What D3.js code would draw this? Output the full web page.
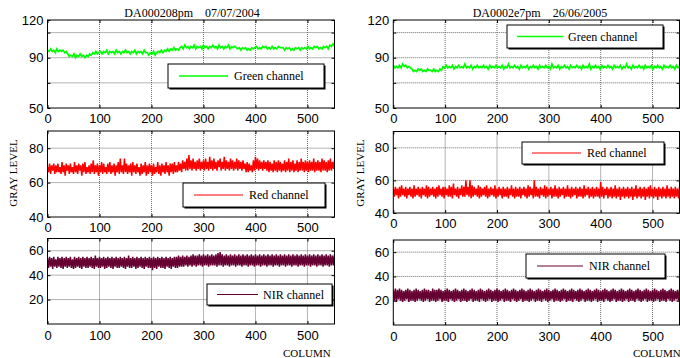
<!DOCTYPE html>
<html>
<head>
<meta charset="utf-8">
<script src="https://cdn.jsdelivr.net/npm/d3@7"></script>
<style>
  html, body { margin: 0; padding: 0; background: #fff; }
  svg { display: block; }
  .num text, text.num { font-family: "Liberation Sans", Arial, sans-serif; font-size: 13px; fill: #000; }
  .serif { font-family: "Liberation Serif", "Times New Roman", serif; fill: #000; white-space: pre; }
</style>
</head>
<body>
<div id="chart"></div>
<script>
const W = 680, H = 358

// ---- chart data ----
const titles = ['DA000208pm    07/07/2004', 'DA0002e7pm    26/06/2005']
const channelNames = ['Green channel', 'Red channel', 'NIR channel']
const channelColors = ['#00ff00', '#ff0000', '#660033']
const xMax = 552
const xTicks = [0, 100, 200, 300, 400, 500]
const yDomains = [[50, 120], [40, 90], [0, 70]]
const yTickLabels = [[50, 90, 120], [40, 60, 80], [20, 40, 60]]
const yGrid = [[70, 90, 110], [60, 80], [20, 40, 60]]
// column step between samples
const greenStep = 3
const bandStep = 2

// gray levels, left image (DA000208pm)
const greenLeft = [
  96,95,97,95,96,94,97,95,96,95,96,94,95,
  93,91,92,91,93,90,92,91,93,91,92,90,92,91,93,92,
  94,93,95,93,94,
  95,93,95,94,96,93,95,94,95,93,96,94,95,93,95,94,96,94,95,93,95,94,96,93,95,94,95,93,96,94,
  94,92,94,93,95,92,94,
  95,94,96,94,96,95,97,95,97,96,98,96,97,96,98,
  99,97,100,98,99,97,99,98,100,97,99,98,99,97,100,98,99,97,99,98,100,98,99,97,100,98,99,97,99,98,100,97,99,98,99,
  98,97,98,96,98,97,98,96,97,96,98,97,98,
  99,97,98,97,99,98,99,97,98,97,99,97,98,97,99,98,98,
  98,96,98,97,98,96,97,96,98,97,98,96,98,97,98,97,
  99,97,98,97,99,98,99,97,98,97,99,98,99,97,100,99,101,99
]
const redLeft = [
  69,66,71,65,70,67,71,65,70,66, 71,66,69,65,72,66,70,64,71,67,
  70,65,71,66,69,65,72,66,70,65, 71,67,70,64,71,66,72,65,69,66,
  70,65,71,66,73,65,70,66,71,64, 70,66,72,65,71,66,69,65,71,66,
  72,65,70,66,71,64,70,66,72,65, 74,66,70,65,74,66,71,65,70,66,
  71,64,72,66,70,65,71,66,69,64, 71,65,70,66,72,64,70,65,71,66,
  70,64,71,65,69,66,72,65,70,64, 71,66,70,65,72,66,70,64,71,66,
  71,65,72,66,70,66,72,67,71,66, 73,68,72,67,74,67,76,68,73,67,
  74,68,72,67,73,68,74,67,72,68, 73,67,74,68,72,67,75,68,73,67,
  74,68,72,67,73,69,74,67,72,68, 75,67,73,68,72,67,74,68,73,67,
  72,68,74,67,73,68,72,67,73,68, 71,66,72,66,71,67,70,66,73,67,
  75,68,74,67,73,68,72,67,73,68, 72,67,73,66,72,67,71,66,73,67,
  72,66,73,67,72,66,71,67,73,66, 72,67,74,66,72,67,73,66,71,67,
  73,66,72,67,74,67,72,66,73,67, 72,66,73,67,72,67,74,66,72,67,
  73,67,72,66,74,67,73,67,72,66, 73,67,74,67,72,68,73
]
const nirLeft = [
  54,46,55,47,54,45,55,47,53,46, 55,47,54,46,55,45,54,47,55,46,
  54,47,55,46,53,45,55,46,54,47, 55,46,54,45,55,47,54,46,55,46,
  54,47,55,46,54,45,56,47,54,46, 55,46,54,47,55,45,54,46,55,47,
  54,46,55,45,54,47,55,46,54,46, 55,47,54,46,55,45,54,47,56,46,
  54,46,55,47,54,45,55,46,54,47, 55,46,54,45,55,47,54,46,55,46,
  54,44,55,46,54,45,55,47,54,46, 55,46,54,45,55,47,54,46,55,45,
  54,47,55,46,55,46,56,47,55,47, 56,47,55,48,56,47,55,48,56,47,
  57,48,56,47,56,48,57,48,56,47, 57,48,56,48,57,47,56,48,57,48,
  56,48,57,47,58,48,59,48,57,47, 56,48,57,48,56,47,57,48,56,48,
  57,47,56,48,57,48,56,47,57,48, 56,48,57,47,56,48,57,48,56,47,
  57,48,56,48,57,47,56,48,57,48, 56,47,57,48,56,48,57,47,56,48,
  57,48,56,47,57,48,56,48,57,47, 56,48,57,48,56,47,57,48,56,48,
  57,47,56,48,57,48,56,47,57,48, 56,48,57,47,56,48,57,48,56,47,
  57,48,56,48,57,47,56,48,57,48, 56,47,57,48,56,48,57
]

// gray levels, right image (DA0002e7pm)
const greenRight = [
  84,82,83,82,84,82,85,83,84,82,83,82,
  81,79,80,79,81,80,81,79,80,79,81,80,80,79,81,79,80,79,81,80,
  83,82,84,82,83,82,84,81,83,82, 84,82,83,82,85,82,83,82,84,81,
  83,82,84,82,83,82,84,82,83,81, 84,82,83,82,84,82,83,82,84,81,
  83,82,85,82,83,82,84,82,83,81, 84,82,83,82,84,81,83,82,84,82,
  83,81,84,82,83,82,84,82,83,81, 85,82,83,82,84,81,83,82,84,82,
  83,81,84,82,83,82,84,82,83,81, 84,82,83,82,85,81,83,82,84,82,
  83,81,84,82,83,82,84,82,83,81, 84,82,83,82,84,81,83,82,85,82,
  83,81,84,82,83,82,84,82,83,81, 84,82,83,82,84,81,83,82,84,82,
  83,81,84,82,83,82,84,82,83,81, 84,82,83
]
const redRight = [
  55,50,56,51,55,49,56,50,57,51, 55,50,56,49,55,51,56,50,55,49,
  57,50,55,51,56,50,55,49,56,51, 55,50,57,49,56,50,55,51,56,50,
  55,49,56,50,57,51,55,50,56,49, 56,51,55,50,57,50,56,49,58,51,
  55,50,56,49,55,51,57,50,56,50, 60,51,56,50,60,49,57,50,56,51,
  55,50,57,49,56,50,55,51,56,50, 57,49,55,50,56,51,55,50,57,49,
  55,50,56,51,55,49,56,50,55,50, 56,49,55,51,57,50,55,49,56,50,
  55,50,56,49,55,51,56,50,55,49, 57,50,56,51,55,49,60,50,56,50,
  55,49,56,51,55,50,57,49,56,50, 55,51,56,49,55,50,57,50,55,49,
  56,50,55,51,56,49,55,50,57,50, 55,49,56,50,55,51,56,49,55,50,
  56,50,55,49,57,50,55,51,56,49, 55,50,56,49,55,50,56,50,55,49,
  59,50,56,49,55,51,56,49,55,50, 56,49,55,50,57,49,55,50,56,48,
  55,50,56,49,55,50,56,49,55,50, 56,48,55,50,57,49,55,50,56,49,
  55,50,56,48,55,50,56,49,57,50, 55,49,56,50,55,48,56,50,55,49,
  56,50,55,49,57,50,55,49,56,50, 55,49,56,50,55,49,56
]
const nirRight = [
  29,20,30,19,29,21,30,20,29,19, 28,20,29,21,30,19,29,20,28,20,
  29,19,30,20,29,21,28,20,29,19, 30,20,29,21,29,19,28,20,30,20,
  29,19,29,20,30,21,29,19,28,20, 29,20,30,19,29,21,28,20,29,19,
  30,20,29,21,28,19,29,20,30,20, 29,19,28,20,29,21,30,19,29,20,
  28,20,29,19,30,21,29,20,28,19, 29,20,30,21,29,19,28,20,29,20,
  30,19,29,20,28,21,29,19,30,20, 29,20,28,19,29,21,30,20,29,19,
  28,20,29,21,30,19,29,20,28,20, 29,19,30,20,29,21,28,19,29,20,
  30,20,29,19,28,21,29,20,30,19, 29,20,28,21,29,19,30,20,29,20,
  28,19,29,20,30,21,29,19,28,20, 29,20,30,19,29,21,28,20,29,19,
  30,20,29,21,28,19,29,20,30,20, 29,19,28,20,29,21,30,19,29,20,
  28,20,29,19,30,21,29,20,28,19, 29,20,30,21,29,19,28,20,29,20,
  30,19,29,20,28,21,29,19,30,20, 29,20,28,19,29,21,30,20,29,19,
  28,20,29,21,30,19,29,20,28,20, 29,19,30,20,29,21,28,19,29,20,
  30,20,29,19,28,21,29,20,30,19, 29,20,28,21,29,20,29
]

const series = [
  [greenLeft, redLeft, nirLeft],
  [greenRight, redRight, nirRight]
]
const steps = [greenStep, bandStep, bandStep]

// ---- layout ----
// legends: [x, y, w, h, line start offset, line length, text offset]
const cols = [
  { x0: 47.5, x1: 334.5, titleX: 192, grayX: 13, columnX: 283,
    rows: [[20, 108], [131, 217], [238.5, 324]],
    legends: [[168, 64, 156, 24, 11, 49, 66], [183, 183, 142, 24, 11, 49, 66], [207, 284, 125, 21, 10, 41, 56]] },
  { x0: 393.3, x1: 679.5, titleX: 540, grayX: 360, columnX: 633,
    rows: [[20, 108], [131.5, 213], [240, 325]],
    legends: [[507, 25, 156, 23, 10, 46, 61], [522, 142, 142, 22, 10, 49, 65], [526, 254, 139, 24, 11, 46, 63]] }
]

const svg = d3.select('#chart').append('svg')
  .attr('width', W)
  .attr('height', H)

function drawPanel(col, c, r) {
  const [y0, y1] = col.rows[r]
  const x = d3.scaleLinear().domain([0, xMax]).range([col.x0, col.x1])
  const y = d3.scaleLinear().domain(yDomains[r]).range([y1, y0])
  const g = svg.append('g')

  // grid lines
  g.append('g').selectAll('line')
    .data(xTicks.filter(d => d > 0))
    .join('line')
    .attr('x1', d => x(d)).attr('x2', d => x(d))
    .attr('y1', y0).attr('y2', y1)
    .attr('stroke', '#5a5a5a').attr('stroke-width', 0.9).attr('stroke-dasharray', '1,1')
  g.append('g').selectAll('line')
    .data(yGrid[r])
    .join('line')
    .attr('x1', col.x0).attr('x2', col.x1)
    .attr('y1', d => y(d)).attr('y2', d => y(d))
    .attr('stroke', '#5a5a5a').attr('stroke-width', 0.9).attr('stroke-dasharray', '1,1')

  // data
  const clipId = 'clip' + c + r
  svg.append('clipPath').attr('id', clipId)
    .append('rect')
    .attr('x', col.x0).attr('y', y0)
    .attr('width', col.x1 - col.x0).attr('height', y1 - y0)
  const step = steps[r]
  const line = d3.line()
    .x((d, i) => x(i * step))
    .y(d => y(d))
  g.append('path')
    .attr('clip-path', 'url(#' + clipId + ')')
    .attr('d', line(series[c][r]))
    .attr('fill', 'none')
    .attr('stroke', channelColors[r])
    .attr('stroke-width', r === 0 ? 1.7 : 1.5)

  // box and inner ticks on all four sides
  const yTickAll = Array.from(new Set(yTickLabels[r].concat(yGrid[r])))
  g.append('g').attr('transform', 'translate(0,' + y1 + ')')
    .call(d3.axisTop(x).tickValues(xTicks).tickSize(3).tickFormat(''))
  g.append('g').attr('transform', 'translate(0,' + y0 + ')')
    .call(d3.axisBottom(x).tickValues(xTicks).tickSize(3).tickFormat(''))
  g.append('g').attr('transform', 'translate(' + col.x0 + ',0)')
    .call(d3.axisRight(y).tickValues(yTickAll).tickSize(3).tickFormat(''))
  g.append('g').attr('transform', 'translate(' + col.x1 + ',0)')
    .call(d3.axisLeft(y).tickValues(yTickAll).tickSize(3).tickFormat(''))
  g.selectAll('.domain').remove()
  g.selectAll('.tick line').attr('stroke', '#000')
  g.append('rect')
    .attr('x', col.x0).attr('y', y0)
    .attr('width', col.x1 - col.x0).attr('height', y1 - y0)
    .attr('fill', 'none').attr('stroke', '#000').attr('stroke-width', 1)

  // tick labels
  const xLab = g.append('g').attr('class', 'num')
    .attr('transform', 'translate(0,' + y1 + ')')
    .call(d3.axisBottom(x).tickValues(xTicks).tickSize(0).tickPadding(r === 2 ? 7 : 5.5))
  const yLab = g.append('g').attr('class', 'num')
    .attr('transform', 'translate(' + col.x0 + ',0)')
    .call(d3.axisLeft(y).tickValues(yTickLabels[r]).tickSize(0).tickPadding(4))
  xLab.select('.domain').remove()
  yLab.select('.domain').remove()
  g.selectAll('.num text').attr('font-family', null).attr('font-size', null)

  // legend
  const [lx, ly, lw, lh, ls, ll, lt] = col.legends[r]
  const leg = g.append('g')
  leg.append('rect')
    .attr('x', lx + 1.5).attr('y', ly + 1.5).attr('width', lw).attr('height', lh)
    .attr('fill', '#000')
  leg.append('rect')
    .attr('x', lx).attr('y', ly).attr('width', lw).attr('height', lh)
    .attr('fill', '#fff').attr('stroke', '#000').attr('stroke-width', 1)
  leg.append('line')
    .attr('x1', lx + ls).attr('x2', lx + ls + ll)
    .attr('y1', ly + lh / 2).attr('y2', ly + lh / 2)
    .attr('stroke', channelColors[r]).attr('stroke-width', r === 0 ? 1.6 : 1.2)
  leg.append('text').attr('class', 'serif')
    .attr('x', lx + lt).attr('y', ly + lh / 2 + 4)
    .attr('font-size', 12)
    .text(channelNames[r])
}

cols.forEach((col, c) => {
  col.rows.forEach((_, r) => drawPanel(col, c, r))

  svg.append('text').attr('class', 'serif')
    .attr('x', col.titleX).attr('y', 17)
    .attr('text-anchor', 'middle').attr('font-size', 12)
    .text(titles[c])

  svg.append('text').attr('class', 'serif')
    .attr('transform', 'translate(' + col.grayX + ',173) rotate(-90)')
    .attr('text-anchor', 'middle').attr('dy', '0.35em').attr('font-size', 11)
    .text('GRAY LEVEL')

  svg.append('text').attr('class', 'serif')
    .attr('x', col.columnX).attr('y', 356.5).attr('font-size', 11)
    .text('COLUMN')
})
</script>
</body>
</html>
